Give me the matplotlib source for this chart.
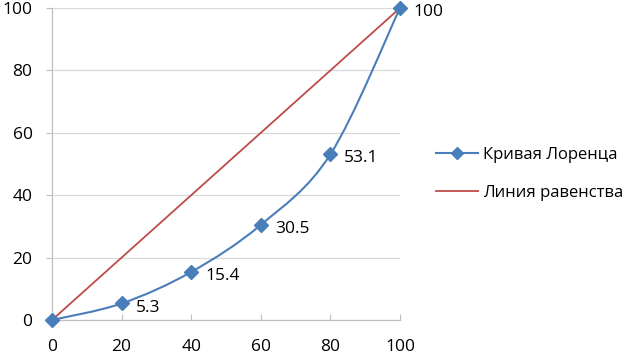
import numpy as np
import matplotlib
matplotlib.use("Agg")
import matplotlib.pyplot as plt
from matplotlib.path import Path
from matplotlib.patches import PathPatch
from matplotlib.lines import Line2D

plt.rcParams['font.family'] = ['Open Sans', 'DejaVu Sans']

x_vals = [0, 20, 40, 60, 80, 100]
lorenz = [0, 5.3, 15.4, 30.5, 53.1, 100]
equality_x = [0, 100]
equality_y = [0, 100]
point_labels = ["", "5.3", "15.4", "30.5", "53.1", "100"]
ticks = [0, 20, 40, 60, 80, 100]
series_names = ["Кривая Лоренца", "Линия равенства"]

blue = "#4A7EBB"
red = "#BE4B48"

fig = plt.figure(figsize=(6.31, 3.55), dpi=100)
ax = fig.add_axes([52/631, 35/355, 348/631, 312/355])

ax.set_xlim(0, 100)
ax.set_ylim(0, 100)

for t in ticks:
    ax.axhline(t, color="#D9D9D9", lw=0.9, zorder=0)

ax.plot(equality_x, equality_y, color=red, lw=1.3, zorder=2, clip_on=False)

pts = np.column_stack([x_vals, lorenz]).astype(float)
verts = [tuple(pts[0])]
codes = [Path.MOVETO]
n = len(pts)
for i in range(n - 1):
    p0 = pts[i - 1] if i > 0 else pts[i]
    p1 = pts[i]
    p2 = pts[i + 1]
    p3 = pts[i + 2] if i + 2 < n else pts[i + 1]
    c1 = p1 + (p2 - p0) / 6.0
    c2 = p2 - (p3 - p1) / 6.0
    verts += [tuple(c1), tuple(c2), tuple(p2)]
    codes += [Path.CURVE4] * 3
patch = PathPatch(Path(verts, codes), facecolor="none", edgecolor=blue, lw=1.5, zorder=3, clip_on=False)
ax.add_patch(patch)
ax.plot(x_vals, lorenz, linestyle="none", marker="D", markersize=7, color=blue,
        markeredgecolor=blue, zorder=4, clip_on=False)

for xv, yv, lab in zip(x_vals, lorenz, point_labels):
    if lab:
        ax.annotate(lab, (xv, yv), xytext=(10, -3), textcoords="offset points",
                    ha="left", va="center", fontsize=12.5, color="#000000")

ax.set_xticks(ticks)
ax.set_yticks(ticks)
ax.set_xticklabels([str(t) for t in ticks], fontsize=12.5)
ax.set_yticklabels([str(t) for t in ticks], fontsize=12.5)
for s in ["top", "right"]:
    ax.spines[s].set_visible(False)
for s in ["left", "bottom"]:
    ax.spines[s].set_color("#BFBFBF")
    ax.spines[s].set_linewidth(0.9)
ax.tick_params(axis="y", length=4, color="#BFBFBF", pad=10, direction="out")
ax.tick_params(axis="x", length=4, color="#BFBFBF", pad=14, direction="in")

handles = [Line2D([0], [0], color=blue, lw=1.5, marker="D", markersize=6),
           Line2D([0], [0], color=red, lw=1.3)]
leg = fig.legend(handles, series_names, loc="center left", bbox_to_anchor=(436/631, 0.51),
                 frameon=False, fontsize=12, handlelength=2.5, handletextpad=0.3,
                 labelspacing=1.35, borderaxespad=0, borderpad=0)

fig.savefig("out.png", dpi=100)
